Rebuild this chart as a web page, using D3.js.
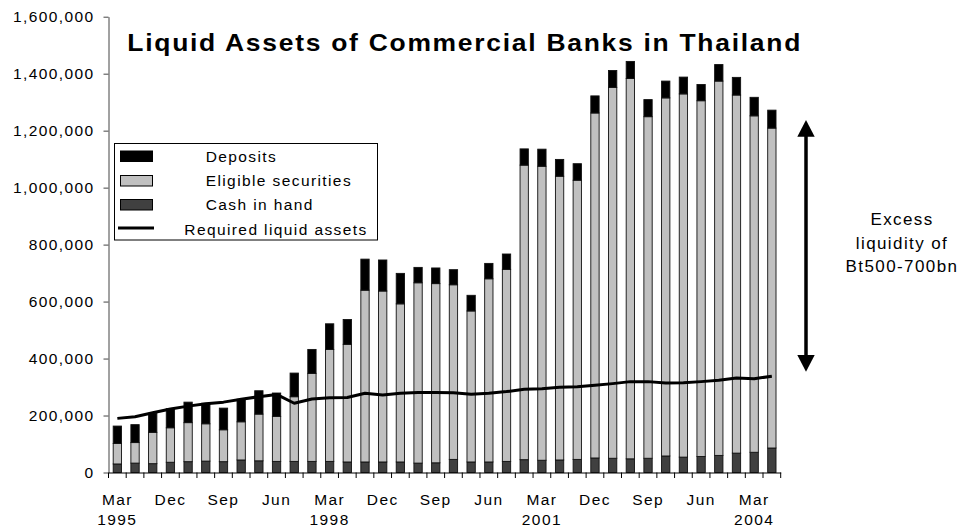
<!DOCTYPE html>
<html>
<head>
<meta charset="utf-8">
<script src="https://cdn.jsdelivr.net/npm/d3@7"></script>
<style>
  html, body { margin: 0; padding: 0; background: #fff; }
  svg { display: block; font-family: "Liberation Sans", Arial, sans-serif; }
  .tick text, .lbl { letter-spacing: 1.4px; }
</style>
</head>
<body>
<svg id="chart" width="969" height="532"></svg>
<script>
// Quarterly observations, Mar 1995 – Jun 2004 (million baht)
const quarters = [
  "Mar 1995","Jun 1995","Sep 1995","Dec 1995",
  "Mar 1996","Jun 1996","Sep 1996","Dec 1996",
  "Mar 1997","Jun 1997","Sep 1997","Dec 1997",
  "Mar 1998","Jun 1998","Sep 1998","Dec 1998",
  "Mar 1999","Jun 1999","Sep 1999","Dec 1999",
  "Mar 2000","Jun 2000","Sep 2000","Dec 2000",
  "Mar 2001","Jun 2001","Sep 2001","Dec 2001",
  "Mar 2002","Jun 2002","Sep 2002","Dec 2002",
  "Mar 2003","Jun 2003","Sep 2003","Dec 2003",
  "Mar 2004","Jun 2004"
];

const cashInHand = [
  30000, 33000, 31000, 36000, 38000, 40000, 38000, 44000, 41000, 39000,
  39000, 39000, 39000, 37000, 37000, 37000, 37000, 33000, 34000, 46000,
  37000, 37000, 39000, 45000, 43000, 44000, 46000, 51000, 50000, 48000,
  50000, 58000, 54000, 56000, 60000, 68000, 71000, 86000
];

const eligibleSecurities = [
  72000, 72000, 110000, 121000, 137000, 131000, 112000, 134000, 164000, 158000,
  227000, 309000, 393000, 413000, 603000, 600000, 555000, 633000, 629000, 613000,
  530000, 643000, 674000, 1034000, 1032000, 996000, 980000, 1211000, 1302000, 1335000,
  1199000, 1257000, 1275000, 1249000, 1314000, 1257000, 1181000, 1123000
];

const deposits = [
  61000, 63000, 67000, 67000, 72000, 72000, 76000, 79000, 82000, 82000,
  83000, 84000, 90000, 87000, 109000, 109000, 107000, 54000, 55000, 53000,
  55000, 54000, 54000, 57000, 60000, 59000, 58000, 60000, 59000, 60000,
  60000, 59000, 59000, 57000, 58000, 62000, 65000, 63000
];

const requiredLiquidAssets = [
  190000, 196000, 210000, 223000, 233000, 241000, 247000, 257000, 266000, 274000,
  243000, 258000, 262000, 263000, 278000, 272000, 278000, 281000, 281000, 280000,
  275000, 278000, 284000, 292000, 294000, 299000, 301000, 306000, 312000, 319000,
  319000, 314000, 315000, 319000, 324000, 332000, 329000, 338000
];

const yTicks = [0, 200000, 400000, 600000, 800000, 1000000, 1200000, 1400000, 1600000];

// Labelled quarters: [quarter, month line, year line]
const xTickLabels = [
  ["Mar 1995", "Mar", "1995"], ["Dec 1995", "Dec", ""], ["Sep 1996", "Sep", ""],
  ["Jun 1997", "Jun", ""], ["Mar 1998", "Mar", "1998"], ["Dec 1998", "Dec", ""],
  ["Sep 1999", "Sep", ""], ["Jun 2000", "Jun", ""], ["Mar 2001", "Mar", "2001"],
  ["Dec 2001", "Dec", ""], ["Sep 2002", "Sep", ""], ["Jun 2003", "Jun", ""],
  ["Mar 2004", "Mar", "2004"]
];

const seriesNames = ["Deposits", "Eligible securities", "Cash in hand", "Required liquid assets"];
const colors = { cash: "#404040", securities: "#c0c0c0", deposits: "#000000" };

const svg = d3.select("#chart");

const x = d3.scaleBand()
  .domain(quarters)
  .range([108.5, 780.7])
  .paddingInner(0.53)
  .paddingOuter(0.265);

const y = d3.scaleLinear()
  .domain([0, 1600000])
  .range([472.5, 16.7]);

const rows = quarters.map((q, i) => ({
  q,
  cash: cashInHand[i],
  securities: eligibleSecurities[i],
  deposits: deposits[i]
}));

const stacked = d3.stack().keys(["cash", "securities", "deposits"])(rows);

// Stacked bars
svg.append("g")
  .selectAll("g")
  .data(stacked)
  .join("g")
    .attr("fill", d => colors[d.key])
  .selectAll("rect")
  .data(d => d)
  .join("rect")
    .attr("x", d => x(d.data.q))
    .attr("y", d => y(d[1]))
    .attr("width", x.bandwidth())
    .attr("height", d => y(d[0]) - y(d[1]))
    .attr("stroke", "#111")
    .attr("stroke-width", 0.9);

// Required liquid assets line
const line = d3.line()
  .x((d, i) => x(quarters[i]) + x.bandwidth() / 2)
  .y(d => y(d));

svg.append("path")
  .datum(requiredLiquidAssets)
  .attr("fill", "none")
  .attr("stroke", "#000")
  .attr("stroke-width", 3)
  .attr("stroke-linejoin", "round")
  .attr("d", line);

// Y axis
const yAxis = svg.append("g")
  .attr("transform", "translate(108.5,0)")
  .call(d3.axisLeft(y).tickValues(yTicks).tickFormat(d3.format(",")).tickSize(5).tickSizeOuter(0).tickPadding(9));
yAxis.selectAll("text").attr("font-size", 15.5).attr("fill", "#000")
  .attr("font-family", "'Liberation Sans', Arial, sans-serif");
yAxis.selectAll("line, path").attr("stroke", "#444");

// X axis with labels under selected quarters
const labelMap = new Map(xTickLabels.map(d => [d[0], d]));
const xAxis = svg.append("g")
  .attr("transform", "translate(0,472.5)")
  .call(d3.axisBottom(x).tickValues(xTickLabels.map(d => d[0])).tickSize(0).tickSizeOuter(0).tickFormat(() => ""));
xAxis.select("path.domain").attr("stroke", "#000");
xAxis.selectAll(".tick text").remove();
xAxis.selectAll(".tick").each(function(q) {
  const t = labelMap.get(q);
  const g = d3.select(this);
  g.append("text").attr("y", 32).attr("text-anchor", "middle").attr("font-size", 15.5)
    .attr("fill", "#000").attr("class", "lbl").attr("font-family", "'Liberation Sans', Arial, sans-serif").text(t[1]);
  if (t[2]) {
    g.append("text").attr("y", 52.5).attr("text-anchor", "middle").attr("font-size", 15.5)
      .attr("fill", "#000").attr("class", "lbl").attr("font-family", "'Liberation Sans', Arial, sans-serif").text(t[2]);
  }
});

// Tick marks at quarter boundaries
const boundaries = d3.range(quarters.length + 1).map(i => x.range()[0] + i * x.step());
svg.append("g")
  .selectAll("line")
  .data(boundaries)
  .join("line")
    .attr("x1", d => d).attr("x2", d => d)
    .attr("y1", 472.5).attr("y2", 478)
    .attr("stroke", "#000");

// Title, widened horizontally
const titleScale = 1.15;
svg.append("text")
  .attr("transform", `translate(127.3,50.5) scale(${titleScale},1)`)
  .attr("font-size", 23)
  .attr("font-weight", "bold")
  .attr("textLength", 673 / titleScale)
  .attr("lengthAdjust", "spacing")
  .text("Liquid Assets of Commercial Banks in Thailand");

// Legend
const legend = svg.append("g");
legend.append("rect")
  .attr("x", 114.5).attr("y", 143.5).attr("width", 263).attr("height", 96.5)
  .attr("fill", "#fff").attr("stroke", "#000").attr("stroke-width", 1);

const swatches = [
  { fill: colors.deposits, y: 151, label: seriesNames[0], tx: 205.7, ty: 161.7 },
  { fill: colors.securities, y: 175.5, label: seriesNames[1], tx: 205.7, ty: 185.5 },
  { fill: colors.cash, y: 199.5, label: seriesNames[2], tx: 205.7, ty: 210 }
];
swatches.forEach(s => {
  legend.append("rect")
    .attr("x", 120.5).attr("y", s.y).attr("width", 32).attr("height", 10.5)
    .attr("fill", s.fill).attr("stroke", "#000").attr("stroke-width", 1);
  legend.append("text").attr("class", "lbl")
    .attr("x", s.tx).attr("y", s.ty).attr("font-size", 15.5).text(s.label);
});
legend.append("line")
  .attr("x1", 118).attr("x2", 154).attr("y1", 228).attr("y2", 228)
  .attr("stroke", "#000").attr("stroke-width", 3);
legend.append("text").attr("class", "lbl")
  .attr("x", 184.3).attr("y", 234.7).attr("font-size", 15.5).text(seriesNames[3]);

// Double-headed arrow with excess-liquidity note
const arrowX = 806, arrowTop = 120, arrowBottom = 371.7, headLen = 16.7, headHalf = 8.7;
const ann = svg.append("g");
ann.append("line")
  .attr("x1", arrowX).attr("x2", arrowX)
  .attr("y1", arrowTop + headLen - 1).attr("y2", arrowBottom - headLen + 1)
  .attr("stroke", "#000").attr("stroke-width", 3.5);
ann.append("path")
  .attr("d", `M${arrowX},${arrowTop}L${arrowX - headHalf},${arrowTop + headLen}L${arrowX + headHalf},${arrowTop + headLen}Z`)
  .attr("fill", "#000");
ann.append("path")
  .attr("d", `M${arrowX},${arrowBottom}L${arrowX - headHalf},${arrowBottom - headLen}L${arrowX + headHalf},${arrowBottom - headLen}Z`)
  .attr("fill", "#000");

const noteLines = ["Excess", "liquidity of", "Bt500-700bn"];
ann.selectAll("text.note")
  .data(noteLines)
  .join("text")
    .attr("class", "note lbl")
    .attr("x", 902)
    .attr("y", (d, i) => 225 + i * 23.5)
    .attr("text-anchor", "middle")
    .attr("font-size", 17)
    .text(d => d);
</script>
</body>
</html>
